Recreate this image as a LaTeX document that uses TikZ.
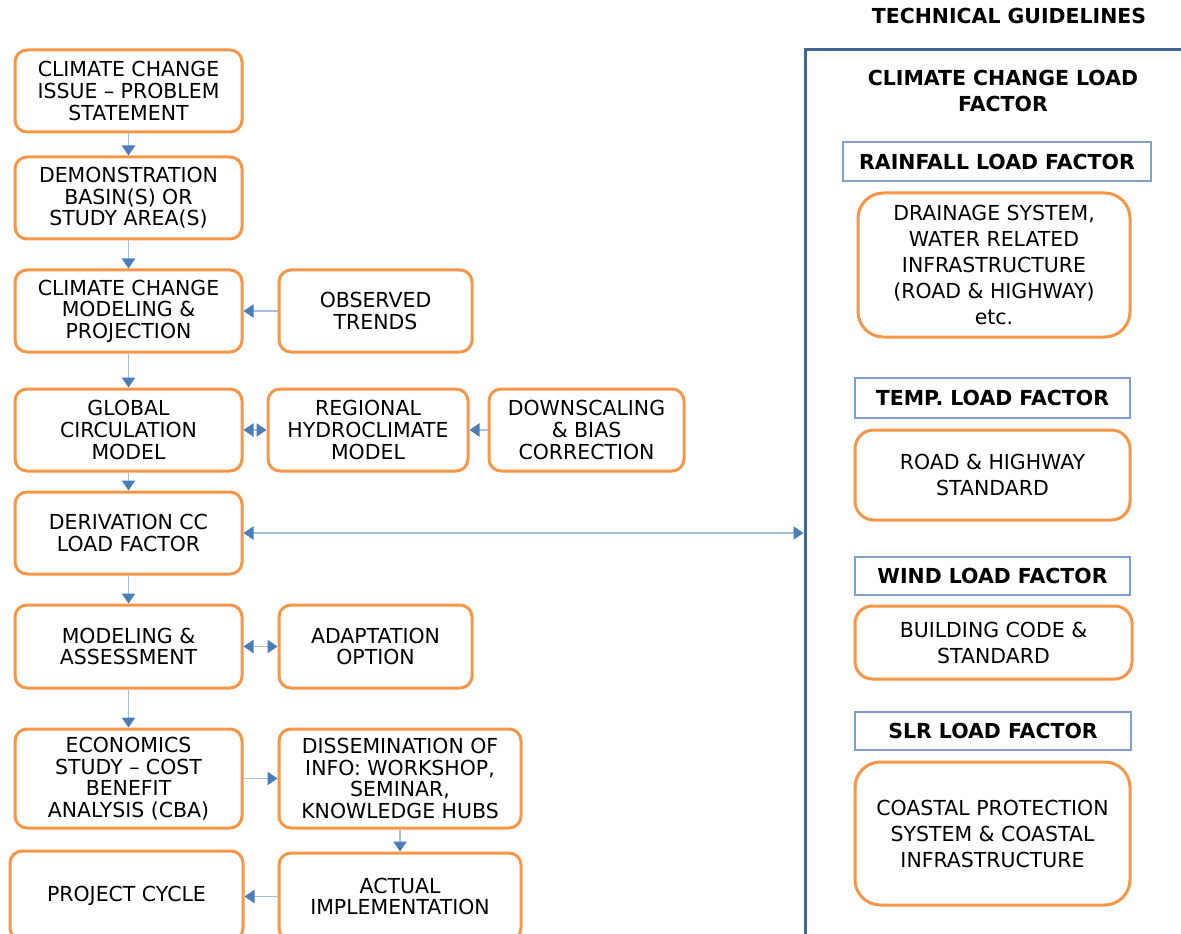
\documentclass[tikz,border=0pt]{standalone}
\usepackage{fontspec}
\setmainfont{DejaVu Sans}[FakeStretch=0.99]
\usetikzlibrary{arrows.meta}
\definecolor{orng}{HTML}{F79646}
\definecolor{arrf}{HTML}{4A7EBB}
\definecolor{arrl}{HTML}{A6BFE0}
\definecolor{pan}{HTML}{43658E}
\definecolor{hdb}{HTML}{7F9FD0}
\begin{document}
\begin{tikzpicture}[x=0.75pt,y=-0.75pt,
  ob/.style={draw=orng, line width=2.25pt, rounded corners=9pt, align=center, inner sep=0pt,
    font=\fontsize{15.5}{16.2}\selectfont},
  rb/.style={ob, font=\fontsize{15.5}{19.5}\selectfont},
  hb/.style={draw=hdb, line width=1.1pt, align=center, inner sep=0pt,
    font=\bfseries\fontsize{15.5}{16.2}\selectfont},
  sz/.style 2 args={minimum width={#1*0.75pt}, minimum height={#2*0.75pt}},
  tip/.tip={Triangle[length=7.5pt,width=10pt,fill=arrf,color=arrf]},
  ar/.style={draw=arrl, line width=0.8pt, -tip},
  dar/.style={draw=arrl, line width=0.8pt, tip-tip}]
\useasboundingbox (0,0) rectangle (1181,934);
% left column
\node[ob, sz={227}{82}] (b1) at (128.5,91) {CLIMATE CHANGE\\ISSUE -- PROBLEM\\STATEMENT};
\node[ob, sz={227}{82}] (b2) at (128.5,198) {DEMONSTRATION\\BASIN(S) OR\\STUDY AREA(S)};
\node[ob, sz={227}{82}] (b3) at (128.5,311) {CLIMATE CHANGE\\MODELING \&\\PROJECTION};
\node[ob, sz={227}{82}] (b4) at (128.5,430) {GLOBAL\\CIRCULATION\\MODEL};
\node[ob, sz={227}{82}] (b5) at (128.5,533) {DERIVATION CC\\LOAD FACTOR};
\node[ob, sz={227}{83}] (b6) at (128.5,646.5) {MODELING \&\\ASSESSMENT};
\node[ob, sz={227}{99}] (b7) at (128.5,778.5) {ECONOMICS\\STUDY -- COST\\BENEFIT\\ANALYSIS (CBA)};
\node[ob, sz={233}{89}] (b8) at (126.5,895.5) {PROJECT CYCLE};
% middle
\node[ob, sz={193}{82}] (obs) at (375.5,311) {OBSERVED\\TRENDS};
\node[ob, sz={200}{82}] (reg) at (368,430) {REGIONAL\\HYDROCLIMATE\\MODEL};
\node[ob, sz={195}{82}] (dsc) at (586.5,430) {DOWNSCALING\\\& BIAS\\CORRECTION};
\node[ob, sz={193}{83}] (ada) at (375.5,646.5) {ADAPTATION\\OPTION};
\node[ob, sz={242}{99}] (dis) at (400,778.5) {DISSEMINATION OF\\INFO: WORKSHOP,\\SEMINAR,\\KNOWLEDGE HUBS};
\node[ob, sz={242}{87}] (act) at (400,896.5) {ACTUAL\\IMPLEMENTATION};
% right panel
\draw[pan, line width=2.25pt] (805,940) -- (805,50) -- (1190,50);
\coordinate (pl) at (803.5,533);
\node[font=\bfseries\fontsize{15.5}{16.2}\selectfont] (tg) at (1009,16) {TECHNICAL GUIDELINES};
\node[font=\bfseries\fontsize{15.5}{19}\selectfont, align=center] (ccl) at (1003,91) {CLIMATE CHANGE LOAD\\FACTOR};
\node[hb, sz={308}{39}] (h1) at (997,161.5) {RAINFALL LOAD FACTOR};
\node[rb, sz={272}{144}, rounded corners=19pt] (r1) at (994,265) {DRAINAGE SYSTEM,\\WATER RELATED\\INFRASTRUCTURE\\(ROAD \& HIGHWAY)\\etc.};
\node[hb, sz={275}{40}] (h2) at (992.5,398) {TEMP. LOAD FACTOR};
\node[rb, sz={275}{90}, rounded corners=14pt] (r2) at (992.5,475) {ROAD \& HIGHWAY\\STANDARD};
\node[hb, sz={275}{38}] (h3) at (992.5,576) {WIND LOAD FACTOR};
\node[rb, sz={277}{73}, rounded corners=13pt] (r3) at (993.5,642.5) {BUILDING CODE \&\\STANDARD};
\node[hb, sz={276}{38}] (h4) at (993,731) {SLR LOAD FACTOR};
\node[rb, sz={275}{143}, rounded corners=19pt] (r4) at (992.5,833.5) {COASTAL PROTECTION\\SYSTEM \& COASTAL\\INFRASTRUCTURE};
% connectors
\draw[ar] (b1) -- (b2);
\draw[ar] (b2) -- (b3);
\draw[ar] (b3) -- (b4);
\draw[ar] (obs) -- (b3);
\draw[dar] (b4) -- (reg);
\draw[ar] (dsc) -- (reg);
\draw[ar] (b4) -- (b5);
\draw[dar] (b5) -- (pl);
\draw[ar] (b5) -- (b6);
\draw[dar] (b6) -- (ada);
\draw[ar] (b6) -- (b7);
\draw[ar] (b7) -- (dis);
\draw[ar] (dis) -- (act);
\draw[ar] (act.west) -- (b8.east |- act.west);
\end{tikzpicture}
\end{document}
